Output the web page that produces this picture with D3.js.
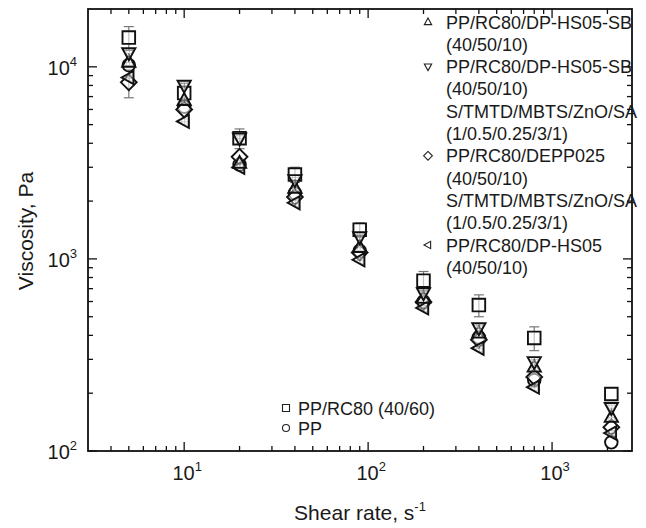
<!DOCTYPE html>
<html>
<head>
<meta charset="utf-8">
<script src="https://cdn.jsdelivr.net/npm/d3@7"></script>
<style>
  body { margin: 0; background: #fff; }
  text { font-family: Arial, "Liberation Sans", sans-serif; fill: #1a1a1a; }
</style>
</head>
<body>
<svg id="chart" width="646" height="528"></svg>
<script>
// shear rate, 1/s
const shearRate = [5, 10, 20, 40, 90, 200, 400, 800, 2100];

// viscosity, Pa, one array per compound
const ppRc80        = [14200, 7300, 4250, 2750, 1420, 770, 575, 388, 198];
const pp            = [10200, 6200, 3100, 2200, 1100, 600, 390, 234, 111];
const dpHs05Sb      = [10600, 6700, 3150, 2340, 1150, 625, 412, 274, 150];
const dpHs05SbCured = [11800, 8000, 4250, 2580, 1300, 665, 437, 291, 168];
const depp025Cured  = [8300, 6000, 3400, 2100, 1080, 597, 379, 243, 133];
const dpHs05        = [8800, 5200, 3000, 1960, 990, 556, 343, 215, 124];

// error bars (absolute, Pa)
const ppRc80Err       = [2000, 900, 500, 250, 120, 90, 75, 55, 0];
const depp025CuredErr = [1400, 0, 0, 0, 0, 0, 0, 0, 0];

const xMajor = [10, 100, 1000];
const yMajor = [100, 1000, 10000];

const svg = d3.select('#chart');
const mLeft = 88, mRight = 632, mTop = 9, mBottom = 451;

const x = d3.scaleLog().domain([3, 2720]).range([mLeft, mRight]);
const y = d3.scaleLog().domain([100, 20000]).range([mBottom, mTop]);

// hatch for triangles
const defs = svg.append('defs');
const pat = defs.append('pattern')
    .attr('id', 'hatch').attr('patternUnits', 'userSpaceOnUse')
    .attr('width', 3).attr('height', 3);
pat.append('rect').attr('width', 3).attr('height', 3).attr('fill', '#fff');
pat.append('path').attr('d', 'M0,0.5H3M0.5,0V3')
    .attr('stroke', '#8a8a8a').attr('stroke-width', 0.8);

// minor ticks for log axes
function minors(scale) {
    const [a, b] = scale.domain();
    const out = [];
    for (let p = Math.floor(Math.log10(a)); p <= Math.ceil(Math.log10(b)); p++) {
        for (let k = 1; k < 10; k++) {
            const v = k * Math.pow(10, p);
            if (v > a && v < b) out.push(v);
        }
    }
    return out;
}
const xMinor = minors(x).filter(v => !xMajor.includes(v));
const yMinor = minors(y).filter(v => !yMajor.includes(v));

const g = svg.append('g').attr('stroke', '#111').attr('stroke-width', 1.3);

// frame
g.append('rect').attr('x', mLeft).attr('y', mTop)
    .attr('width', mRight - mLeft).attr('height', mBottom - mTop)
    .attr('fill', 'none').attr('stroke-width', 1.8);

// inward ticks on all four sides
function tickLines(vals, len) {
    vals.forEach(v => {
        const px = x(v);
        g.append('line').attr('x1', px).attr('x2', px).attr('y1', mBottom).attr('y2', mBottom - len);
        g.append('line').attr('x1', px).attr('x2', px).attr('y1', mTop).attr('y2', mTop + len);
    });
}
function tickLinesY(vals, len) {
    vals.forEach(v => {
        const py = y(v);
        g.append('line').attr('y1', py).attr('y2', py).attr('x1', mLeft).attr('x2', mLeft + len);
        g.append('line').attr('y1', py).attr('y2', py).attr('x1', mRight).attr('x2', mRight - len);
    });
}
tickLines(xMajor, 9); tickLines(xMinor, 5);
tickLinesY(yMajor, 9); tickLinesY(yMinor, 5);

// tick labels
function powLabel(sel, v) {
    const e = Math.round(Math.log10(v));
    sel.append('tspan').text('10');
    sel.append('tspan').attr('dy', -9).attr('font-size', 13).text(e);
}
xMajor.forEach(v => {
    const t = svg.append('text').attr('x', x(v) + 3).attr('y', 480)
        .attr('text-anchor', 'middle').attr('font-size', 20);
    powLabel(t, v);
});
yMajor.forEach(v => {
    const t = svg.append('text').attr('x', 77).attr('y', y(v) + 8)
        .attr('text-anchor', 'end').attr('font-size', 20);
    powLabel(t, v);
});

// axis titles
const xt = svg.append('text').attr('x', 360).attr('y', 520)
    .attr('text-anchor', 'middle').attr('font-size', 21);
xt.append('tspan').text('Shear rate, s');
xt.append('tspan').attr('dy', -9).attr('font-size', 13).text('-1');

svg.append('text').attr('transform', 'translate(33,231) rotate(-90)')
    .attr('text-anchor', 'middle').attr('font-size', 21).text('Viscosity, Pa');

// marker shapes
const shape = {
    square:  s => `M${-s},${-s}H${s}V${s}H${-s}Z`,
    circle:  s => `M${-s},0A${s},${s} 0 1,0 ${s},0A${s},${s} 0 1,0 ${-s},0Z`,
    up:      s => `M0,${-s * 1.15}L${s * 1.05},${s * 0.75}L${-s * 1.05},${s * 0.75}Z`,
    down:    s => `M0,${s * 1.15}L${s * 1.05},${-s * 0.75}L${-s * 1.05},${-s * 0.75}Z`,
    diamond: s => `M0,${-s * 1.25}L${s * 1.25},0L0,${s * 1.25}L${-s * 1.25},0Z`,
    left:    s => `M${-s * 1.15},0L${s * 0.75},${-s * 1.05}L${s * 0.75},${s * 1.05}Z`
};

const series = [
    {name: 'ppRc80', vals: ppRc80, err: ppRc80Err, shape: 'square', fill: '#fff'},
    {name: 'pp', vals: pp, shape: 'circle', fill: '#fff'},
    {name: 'depp025Cured', vals: depp025Cured, err: depp025CuredErr, shape: 'diamond', fill: '#fff'},
    {name: 'dpHs05', vals: dpHs05, shape: 'left', fill: 'url(#hatch)'},
    {name: 'dpHs05Sb', vals: dpHs05Sb, shape: 'up', fill: 'url(#hatch)'},
    {name: 'dpHs05SbCured', vals: dpHs05SbCured, shape: 'down', fill: 'url(#hatch)'}
];

// error bars
const eg = svg.append('g').attr('stroke', '#777').attr('stroke-width', 1.2);
series.filter(s => s.err).forEach(s => {
    s.vals.forEach((v, i) => {
        const e = s.err[i];
        if (!e) return;
        const px = x(shearRate[i]);
        eg.append('line').attr('x1', px).attr('x2', px).attr('y1', y(v + e)).attr('y2', y(v - e));
        [v + e, v - e].forEach(w => eg.append('line')
            .attr('x1', px - 5).attr('x2', px + 5).attr('y1', y(w)).attr('y2', y(w)));
    });
});

// markers
series.forEach(s => {
    svg.append('g').selectAll('path').data(s.vals).join('path')
        .attr('transform', (v, i) => `translate(${x(shearRate[i])},${y(v)})`)
        .attr('d', shape[s.shape](6.3))
        .attr('fill', s.fill).attr('fill-opacity', 0.55)
        .attr('stroke', '#111').attr('stroke-width', 1.9);
});

// legend, top right
const legendTop = [
    {shape: 'up', lines: ['PP/RC80/DP-HS05-SB', '(40/50/10)']},
    {shape: 'down', lines: ['PP/RC80/DP-HS05-SB', '(40/50/10)', 'S/TMTD/MBTS/ZnO/SA', '(1/0.5/0.25/3/1)']},
    {shape: 'diamond', lines: ['PP/RC80/DEPP025', '(40/50/10)', 'S/TMTD/MBTS/ZnO/SA', '(1/0.5/0.25/3/1)']},
    {shape: 'left', lines: ['PP/RC80/DP-HS05', '(40/50/10)']}
];
let row = 0;
const rowH = 22.3, ly0 = 22;
legendTop.forEach(item => {
    const cy = ly0 + row * rowH;
    svg.append('path').attr('transform', `translate(428,${cy})`)
        .attr('d', shape[item.shape](3.5)).attr('fill', 'none')
        .attr('stroke', '#222').attr('stroke-width', 1.1);
    item.lines.forEach((ln, j) => {
        svg.append('text').attr('x', 446).attr('y', ly0 + (row + j) * rowH + 6.5)
            .attr('font-size', 18).text(ln);
    });
    row += item.lines.length;
});

// legend, bottom
const legendBottom = [
    {shape: 'square', label: 'PP/RC80 (40/60)'},
    {shape: 'circle', label: 'PP'}
];
legendBottom.forEach((item, i) => {
    const cy = 408 + i * 20;
    svg.append('path').attr('transform', `translate(286,${cy})`)
        .attr('d', shape[item.shape](3.5)).attr('fill', 'none')
        .attr('stroke', '#222').attr('stroke-width', 1.1);
    svg.append('text').attr('x', 298).attr('y', cy + 6.5)
        .attr('font-size', 18).text(item.label);
});
</script>
</body>
</html>
